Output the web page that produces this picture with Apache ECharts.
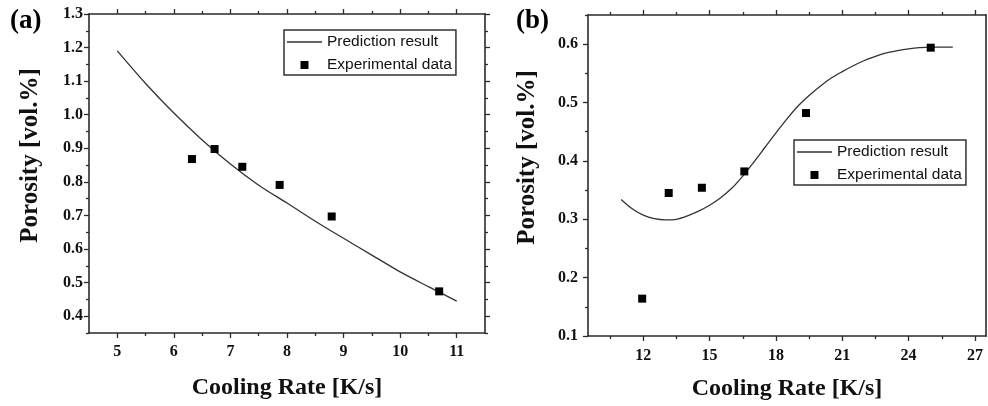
<!DOCTYPE html>
<html>
<head>
<meta charset="utf-8">
<script src="https://cdn.jsdelivr.net/npm/echarts@6/dist/echarts.min.js"></script>
<style>
html,body{margin:0;padding:0;background:#fff;}
#c{width:988px;height:406px;}
</style>
</head>
<body>
<div id="c"></div>
<script>
// ---- Panel (a) data ----
const curveAX = [5, 5.5, 6, 6.5, 7, 7.5, 8, 8.5, 9, 9.5, 10, 10.5, 11];
const curveAY = [1.19, 1.093, 1.005, 0.925, 0.853, 0.79, 0.737, 0.683, 0.632, 0.582, 0.532, 0.488, 0.445];
const expAX = [6.32, 6.72, 7.21, 7.87, 8.79, 10.69];
const expAY = [0.868, 0.898, 0.845, 0.791, 0.697, 0.474];
const xTicksA = [5, 6, 7, 8, 9, 10, 11];
const yTicksA = [0.4, 0.5, 0.6, 0.7, 0.8, 0.9, 1.0, 1.1, 1.2, 1.3];

// ---- Panel (b) data ----
const curveBX = [11, 11.5, 12, 12.5, 13, 13.5, 14, 14.5, 15, 15.5, 16, 16.5, 17, 17.5, 18, 18.5, 19, 19.5, 20, 20.5, 21, 21.5, 22, 22.5, 23, 23.5, 24, 24.5, 25, 25.5, 26];
const curveBY = [0.334, 0.318, 0.307, 0.301, 0.299, 0.300, 0.306, 0.314, 0.324, 0.337, 0.353, 0.374, 0.398, 0.423, 0.448, 0.472, 0.494, 0.512, 0.528, 0.542, 0.553, 0.563, 0.572, 0.579, 0.585, 0.589, 0.592, 0.594, 0.595, 0.595, 0.595];
const expBX = [11.95, 13.15, 14.65, 16.57, 19.36, 25.0];
const expBY = [0.164, 0.345, 0.354, 0.382, 0.482, 0.594];
const xTicksB = [12, 15, 18, 21, 24, 27];
const yTicksB = [0.1, 0.2, 0.3, 0.4, 0.5, 0.6];

const names = ['Prediction result', 'Experimental data'];
const xTitle = 'Cooling Rate [K/s]';
const yTitle = 'Porosity [vol.%]';

// ---- helpers ----
const AX = '#2b2b2b';
const SERIF = '"Liberation Serif", "Times New Roman", serif';
const SANS = '"Liberation Sans", Arial, sans-serif';
function zipPts(xs, ys) { return xs.map((x, i) => [x, ys[i]]); }
function mids(ticks, lo, hi) {
  const step = ticks[1] - ticks[0];
  const out = [];
  for (let i = -1; i < ticks.length; i++) {
    const v = +((i < 0 ? ticks[0] - step / 2 : ticks[i] + step / 2)).toFixed(4);
    if (v >= lo - 1e-9 && v <= hi + 1e-9) out.push(v);
  }
  return out;
}
function axis(kind, grid, min, max, pos, opts) {
  const a = {
    type: 'value', gridIndex: grid, min: min, max: max, position: pos,
    splitLine: { show: false },
    axisLine: { show: !!opts.line, onZero: false, lineStyle: { color: AX, width: 1.6 } },
    axisTick: { show: !!opts.ticks, inside: false, length: opts.len || 5, customValues: opts.ticks || [], lineStyle: { color: AX, width: 1.3 } },
    axisLabel: { show: !!opts.labels },
    z: 5
  };
  if (opts.labels) {
    a.axisLabel = {
      show: true, customValues: opts.labels, margin: opts.margin,
      fontFamily: SERIF, fontWeight: 'bold', fontSize: 16, color: '#111',
      formatter: opts.fmt
    };
  }
  if (opts.name) {
    a.name = opts.name; a.nameLocation = 'middle'; a.nameGap = opts.nameGap;
    a.nameTextStyle = { fontFamily: SERIF, fontWeight: 'bold', fontSize: opts.nameSize, color: '#111', padding: opts.namePad || 0 };
  }
  return a;
}

const grids = [
  { left: 89, top: 14, width: 396, height: 319 },
  { left: 588, top: 15, width: 398, height: 321 }
];
const rA = { x: [4.5, 11.5], y: [0.35, 1.3] };
const rB = { x: [9.5, 27.5], y: [0.1, 0.65] };
const fmt1 = v => v.toFixed(1);
const fmt0 = v => String(Math.round(v));

const xAxes = [
  // panel a
  axis('x', 0, rA.x[0], rA.x[1], 'bottom', { line: true, ticks: xTicksA, labels: xTicksA, margin: 11, fmt: fmt0, name: xTitle, nameGap: 43, nameSize: 24 }),
  axis('x', 0, rA.x[0], rA.x[1], 'bottom', { ticks: mids(xTicksA, 5.0, 11.0), len: 3 }),
  axis('x', 0, rA.x[0], rA.x[1], 'top', { line: true, ticks: xTicksA }),
  axis('x', 0, rA.x[0], rA.x[1], 'top', { ticks: mids(xTicksA, 5.0, 11.0), len: 3 }),
  // panel b
  axis('x', 1, rB.x[0], rB.x[1], 'bottom', { line: true, ticks: xTicksB, labels: xTicksB, margin: 12, fmt: fmt0, name: xTitle, nameGap: 41, nameSize: 24 }),
  axis('x', 1, rB.x[0], rB.x[1], 'bottom', { ticks: mids(xTicksB, 10, 27), len: 3 }),
  axis('x', 1, rB.x[0], rB.x[1], 'top', { line: true, ticks: xTicksB }),
  axis('x', 1, rB.x[0], rB.x[1], 'top', { ticks: mids(xTicksB, 10, 27), len: 3 })
];
const yAxes = [
  // panel a
  axis('y', 0, rA.y[0], rA.y[1], 'left', { line: true, ticks: yTicksA, labels: yTicksA, margin: 6, fmt: fmt1, name: yTitle, nameGap: 46, nameSize: 25, namePad: [0, 0, 0, 36] }),
  axis('y', 0, rA.y[0], rA.y[1], 'left', { ticks: mids(yTicksA, 0.35, 1.3), len: 3 }),
  axis('y', 0, rA.y[0], rA.y[1], 'right', { line: true, ticks: yTicksA }),
  axis('y', 0, rA.y[0], rA.y[1], 'right', { ticks: mids(yTicksA, 0.35, 1.3), len: 3 }),
  // panel b
  axis('y', 1, rB.y[0], rB.y[1], 'left', { line: true, ticks: yTicksB, labels: yTicksB, margin: 10, fmt: fmt1, name: yTitle, nameGap: 48, nameSize: 25, namePad: [0, 0, 0, 36] }),
  axis('y', 1, rB.y[0], rB.y[1], 'left', { ticks: mids(yTicksB, 0.1, 0.65), len: 3 }),
  axis('y', 1, rB.y[0], rB.y[1], 'right', { line: true })
];

const lineStyle = { color: '#333', width: 1.3 };
const sq = 'path://M0,0h1v1h-1z';
const lineIcon = 'path://M0,0h36v1.3h-36z';
const dotStyle = { color: '#000', opacity: 1 };
const series = [
  { name: names[0], type: 'line', xAxisIndex: 0, yAxisIndex: 0, data: zipPts(curveAX, curveAY), smooth: 0.3, symbol: 'none', showSymbol: false, lineStyle: lineStyle, itemStyle: { color: '#333' }, z: 3 },
  { name: names[1], type: 'scatter', xAxisIndex: 0, yAxisIndex: 0, data: zipPts(expAX, expAY), symbol: 'rect', symbolSize: 8, itemStyle: dotStyle, z: 4 },
  { name: names[0], type: 'line', xAxisIndex: 4, yAxisIndex: 4, data: zipPts(curveBX, curveBY), smooth: 0.3, symbol: 'none', showSymbol: false, lineStyle: lineStyle, itemStyle: { color: '#333' }, z: 3 },
  { name: names[1], type: 'scatter', xAxisIndex: 4, yAxisIndex: 4, data: zipPts(expBX, expBY), symbol: 'rect', symbolSize: 8, itemStyle: dotStyle, z: 4 }
];

function legend(left, top) {
  return {
    left: left, top: top, orient: 'vertical',
    data: [{ name: names[0], icon: lineIcon }, { name: names[1], icon: sq }],
    itemWidth: 35, itemHeight: 8, itemGap: 7,
    padding: [4, 4, 2, 3],
    borderColor: '#333', borderWidth: 1.5,
    selectedMode: false,
    textStyle: { fontFamily: SANS, fontSize: 15.5, color: '#111' }
  };
}

const option = {
  animation: false,
  backgroundColor: '#fff',
  title: [
    { text: '(a)', left: 10, top: 8, padding: 0, textStyle: { fontFamily: SERIF, fontWeight: 'bold', fontSize: 27, color: '#000' } },
    { text: '(b)', left: 516, top: 8, padding: 0, textStyle: { fontFamily: SERIF, fontWeight: 'bold', fontSize: 27, color: '#000' } }
  ],
  grid: grids,
  xAxis: xAxes,
  yAxis: yAxes,
  legend: [legend(284, 30), legend(794, 140)],
  series: series
};

const chart = echarts.init(document.getElementById('c'), null, { renderer: 'canvas' });
chart.setOption(option);
</script>
</body>
</html>
